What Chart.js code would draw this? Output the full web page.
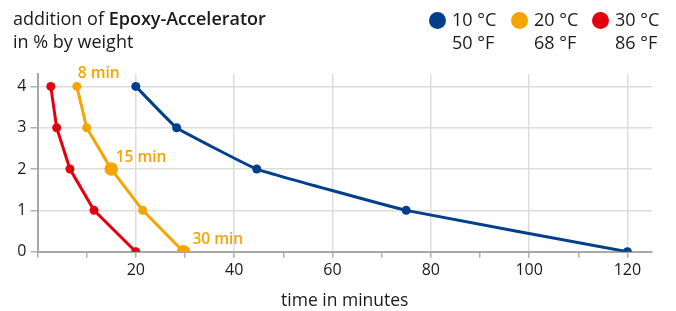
<!DOCTYPE html>
<html>
<head>
<meta charset="utf-8">
<script src="https://cdn.jsdelivr.net/npm/chart.js@4/dist/chart.umd.min.js"></script>
<style>
  html, body { margin: 0; padding: 0; background: #fff; }
  body { width: 676px; height: 311px; position: relative; overflow: hidden; font-family: "Open Sans", sans-serif; color: #1a1a1a; }
  #chart { position: absolute; left: 0; top: 0; }
  .title { position: absolute; left: 13px; top: 7px; font-size: 18px; line-height: 23px; }
  .title b { font-weight: 600; }
  .leg { position: absolute; top: 8px; font-size: 18px; line-height: 23px; }
  .leg .dot { position: absolute; left: -23px; top: 4px; width: 17px; height: 17px; border-radius: 50%; }
</style>
</head>
<body>
<canvas id="chart" width="676" height="311"></canvas>
<div class="title">addition of <b>Epoxy-Accelerator</b><br>in % by weight</div>
<div id="legend"></div>
<script>
var seriesNames = ["10 °C", "20 °C", "30 °C"];
var seriesNamesF = ["50 °F", "68 °F", "86 °F"];
var seriesColors = ["#003f8a", "#f5a500", "#e3000f"];
var accelY = [4, 3, 2, 1, 0];
var time10 = [20, 28.3, 44.6, 75, 120];
var time20 = [8, 10, 15, 21.4, 29.7];
var time30 = [2.7, 3.9, 6.6, 11.5, 20];
var timeLabels20 = ["8 min", "", "15 min", "", "30 min"];
var xTicks = [0, 10, 20, 30, 40, 50, 60, 70, 80, 90, 100, 110, 120];
var xTickLabels = [20, 40, 60, 80, 100, 120];
var yTicks = [0, 1, 2, 3, 4];

function toPoints(xs) {
    return xs.map(function (x, i) { return { x: x, y: accelY[i] }; });
}

// legend in html
var legend = document.getElementById("legend");
var legLeft = [452, 534, 615];
seriesNames.forEach(function (n, i) {
    var d = document.createElement("div");
    d.className = "leg";
    d.style.left = legLeft[i] + "px";
    d.innerHTML = '<span class="dot" style="background:' + seriesColors[i] + '"></span>' + n + "<br>" + seriesNamesF[i];
    legend.appendChild(d);
});

var minLabels = {
    id: "minLabels",
    afterDatasetsDraw: function (chart) {
        var ctx = chart.ctx;
        var xs = chart.scales.x, ys = chart.scales.y;
        var offs = [[1, -13], null, [4.5, -11], null, [9, -12]];
        ctx.save();
        ctx.fillStyle = seriesColors[1];
        ctx.font = "600 15.5px 'Open Sans'";
        ctx.textBaseline = "middle";
        timeLabels20.forEach(function (t, i) {
            if (!t) return;
            var px = xs.getPixelForValue(time20[i]) + offs[i][0];
            var py = ys.getPixelForValue(accelY[i]) + offs[i][1];
            ctx.fillText(t, px, py);
        });
        ctx.restore();
    }
};

var big20 = timeLabels20.map(function (t) { return t && t !== "8 min" ? 6.8 : 4.5; });

new Chart(document.getElementById("chart"), {
    type: "line",
    data: {
        datasets: [
            { label: seriesNames[0], data: toPoints(time10), borderColor: seriesColors[0], backgroundColor: seriesColors[0], borderWidth: 3, pointRadius: 4.5, pointBorderWidth: 0, tension: 0.08 },
            { label: seriesNames[1], data: toPoints(time20), borderColor: seriesColors[1], backgroundColor: seriesColors[1], borderWidth: 3, pointRadius: big20, pointBorderWidth: 0, tension: 0 },
            { label: seriesNames[2], data: toPoints(time30), borderColor: seriesColors[2], backgroundColor: seriesColors[2], borderWidth: 3, pointRadius: 4.5, pointBorderWidth: 0, tension: 0 }
        ]
    },
    options: {
        responsive: false,
        animation: false,
        layout: { padding: { top: 74, right: 24, left: 0, bottom: 0 } },
        plugins: { legend: { display: false }, tooltip: { enabled: false } },
        scales: {
            x: {
                type: "linear", min: 0, max: 125,
                afterBuildTicks: function (s) { s.ticks = xTicks.map(function (v) { return { value: v }; }); },
                afterFit: function (s) { s.height = 59.3; },
                ticks: {
                    maxRotation: 0, autoSkip: false, padding: 3,
                    color: "#1a1a1a", font: { size: 16, family: "'Open Sans'" },
                    callback: function (v) { return xTickLabels.indexOf(v) >= 0 ? String(v) : ""; }
                },
                grid: {
                    color: function (c) { return (c.tick && c.tick.value % 20 === 0) ? "#dddddd" : "rgba(0,0,0,0)"; },
                    tickColor: "#b0b0b0", tickLength: 6, lineWidth: 1.5
                },
                border: { color: "#a8a8a8", width: 2 },
                title: { display: true, text: "time in minutes", color: "#1a1a1a", font: { size: 17.5, family: "'Open Sans'" }, padding: { top: 4, bottom: -1 } }
            },
            y: {
                type: "linear", min: 0, max: 4.3,
                afterBuildTicks: function (s) { s.ticks = yTicks.map(function (v) { return { value: v }; }); },
                afterFit: function (s) { s.width = 37.5; },
                ticks: { padding: 4, color: "#1a1a1a", font: { size: 16, family: "'Open Sans'" } },
                grid: { color: "#dddddd", tickColor: "#b0b0b0", tickLength: 7, lineWidth: 1.5 },
                border: { color: "#a8a8a8", width: 2 }
            }
        }
    },
    plugins: [minLabels]
});
</script>
</body>
</html>
